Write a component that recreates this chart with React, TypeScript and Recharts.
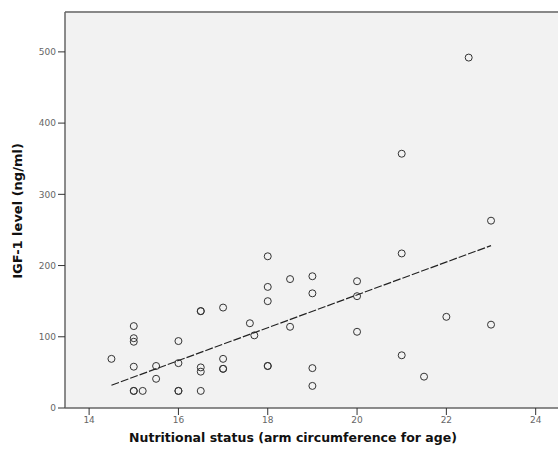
import React from "react";
import {
  ScatterChart,
  Scatter,
  XAxis,
  YAxis,
  CartesianGrid,
  ReferenceLine,
  Label,
} from "recharts";

// arm circumference for age (x) vs IGF-1 level (y)
const armCircumference = [
  14.5,
  15, 15, 15, 15, 15, 15,
  15.2,
  15.5, 15.5,
  16, 16, 16, 16,
  16.5, 16.5, 16.5, 16.5, 16.5,
  17, 17, 17, 17,
  17.6, 17.7,
  18, 18, 18, 18, 18,
  18.5, 18.5,
  19, 19, 19, 19,
  20, 20, 20,
  21, 21, 21,
  21.5, 22, 22.5,
  23, 23,
];
const igfLevel = [
  69,
  115, 98, 93, 58, 24, 24,
  24,
  59, 41,
  94, 63, 24, 24,
  136, 136, 57, 51, 24,
  141, 69, 55, 55,
  119, 102,
  213, 170, 150, 59, 59,
  181, 114,
  185, 161, 56, 31,
  178, 157, 107,
  357, 217, 74,
  44, 128, 492,
  263, 117,
];

// fitted regression line end points
const fitX = [14.5, 23];
const fitY = [32, 228];

const xTicks = [14, 16, 18, 20, 22, 24];
const yTicks = [0, 100, 200, 300, 400, 500];

const points = armCircumference.map((x, i) => ({ x, y: igfLevel[i] }));
const fitLine = fitX.map((x, i) => ({ x, y: fitY[i] }));

const tickStyle = { fontSize: 9, fill: "#666", fontFamily: "DejaVu Sans" };
const titleStyle: React.CSSProperties = {
  fontSize: 12.5,
  fontWeight: "bold",
  fontFamily: "DejaVu Sans",
  fill: "#111",
};

const OpenCircle = (props: any) => (
  <circle cx={props.cx} cy={props.cy} r={3.5} fill="none" stroke="#333" strokeWidth={1} />
);

export default function App() {
  return (
    <div style={{ position: "absolute", left: 0, top: 0, width: 558, height: 455, background: "#fff" }}>
      <ScatterChart width={558} height={455} margin={{ top: 12, right: 0, bottom: 0, left: 0 }}>
        <CartesianGrid fill="#f2f2f2" stroke="none" />
        <XAxis
          type="number"
          dataKey="x"
          domain={[13.46, 24.5]}
          ticks={xTicks}
          height={47}
          tickSize={7}
          tick={tickStyle}
          axisLine={{ stroke: "#666", strokeWidth: 1.5 }}
          tickLine={{ stroke: "#333" }}
          allowDataOverflow
        >
          <Label
            content={() => (
              <text x={293} y={442} textAnchor="middle" style={titleStyle}>
                Nutritional status (arm circumference for age)
              </text>
            )}
          />
        </XAxis>
        <YAxis
          type="number"
          dataKey="y"
          domain={[0, 556]}
          ticks={yTicks}
          width={65}
          tickSize={7}
          tick={tickStyle}
          axisLine={{ stroke: "#666", strokeWidth: 1.5 }}
          tickLine={{ stroke: "#333" }}
          allowDataOverflow
        >
          <Label
            content={() => (
              <text
                x={22}
                y={211}
                textAnchor="middle"
                transform="rotate(-90 22 211)"
                style={{ ...titleStyle, fontSize: 13 }}
              >
                IGF-1 level (ng/ml)
              </text>
            )}
          />
        </YAxis>
        <ReferenceLine y={556} stroke="#888" strokeWidth={2} />
        <Scatter data={points} shape={OpenCircle} isAnimationActive={false} />
        <Scatter
          data={fitLine}
          line={{ stroke: "#222", strokeWidth: 1.2, strokeDasharray: "8 2" }}
          shape={() => <g />}
          isAnimationActive={false}
        />
      </ScatterChart>
    </div>
  );
}
